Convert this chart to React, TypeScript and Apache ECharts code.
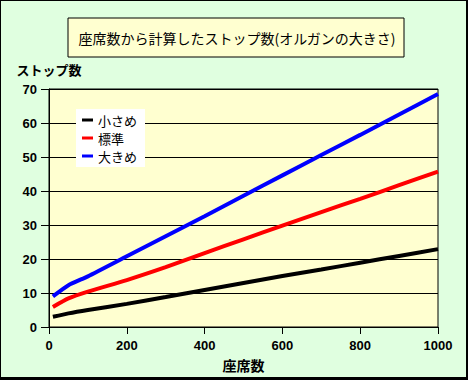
import React, { useEffect, useRef } from "react";
import * as echarts from "echarts";

const titleText = "座席数から計算したストップ数(オルガンの大きさ)";
const xAxisName = "座席数";
const yAxisName = "ストップ数";
const seriesNames = ["小さめ", "標準", "大きめ"];
const seats = [10, 50, 100, 200, 300, 400, 500, 600, 700, 800, 900, 1000];
const small = [3.0, 4.0, 5.0, 6.8, 8.8, 10.9, 12.95, 15.0, 16.9, 18.9, 20.9, 22.9];
const standard = [5.9, 8.4, 10.4, 13.8, 17.6, 21.7, 25.8, 29.8, 33.8, 37.7, 41.7, 45.7];
const large = [9.0, 12.3, 14.9, 20.8, 26.7, 32.6, 38.6, 44.6, 50.6, 56.5, 62.5, 68.5];
const xTicks = [0, 200, 400, 600, 800, 1000];
const yTicks = [0, 10, 20, 30, 40, 50, 60, 70];

const JP = '"Noto Sans CJK JP", sans-serif';
const NUM = '"Liberation Sans", Arial, sans-serif';

export default function App() {
  const ref = useRef<HTMLDivElement>(null);
  useEffect(() => {
    if (!ref.current) return;
    const chart = echarts.init(ref.current, undefined, { renderer: "svg" });
    const colors = ["#000000", "#ff0000", "#0000ff"];
    const values = [small, standard, large];
    chart.setOption({
      animation: false,
      backgroundColor: "#000000",
      graphic: [
        { type: "rect", z: -10, shape: { x: 1, y: 1, width: 465, height: 376 }, style: { fill: "#e0ffe0" } },
        {
          type: "rect",
          shape: { x: 68, y: 18, width: 336, height: 39 },
          style: { fill: "#ffffd0", stroke: "#000000", lineWidth: 1 },
        },
        {
          type: "text",
          x: 237,
          y: 38,
          style: {
            text: titleText,
            fill: "#000000",
            font: `14px ${JP}`,
            align: "center",
            verticalAlign: "middle",
          },
        },
      ],
      grid: {
        left: 49,
        top: 89,
        right: 30,
        bottom: 53,
        show: true,
        backgroundColor: "#ffffd0",
        borderColor: "#000000",
        borderWidth: 1,
      },
      legend: {
        orient: "vertical",
        left: 76,
        top: 109,
        padding: [4, 8, 4, 6],
        backgroundColor: "#ffffff",
        itemWidth: 11,
        itemHeight: 3,
        itemGap: 4,
        icon: "rect",
        data: seriesNames,
        textStyle: { fontFamily: JP, fontSize: 13, color: "#000000", lineHeight: 14 },
      },
      xAxis: {
        type: "value",
        min: xTicks[0],
        max: xTicks[xTicks.length - 1],
        interval: 200,
        name: xAxisName,
        nameLocation: "middle",
        nameGap: 31,
        nameTextStyle: { fontFamily: JP, fontSize: 14, fontWeight: "bold", color: "#000000" },
        axisLine: { lineStyle: { color: "#000000", width: 1 } },
        axisTick: { show: true, length: 7, lineStyle: { color: "#000000" } },
        axisLabel: {
          margin: 12,
          fontFamily: NUM,
          fontSize: 13,
          fontWeight: "bold",
          color: "#000000",
          formatter: (v: number) => String(v),
        },
        splitLine: { show: false },
      },
      yAxis: {
        type: "value",
        min: yTicks[0],
        max: yTicks[yTicks.length - 1],
        interval: 10,
        name: yAxisName,
        nameLocation: "end",
        nameGap: 13,
        nameTextStyle: { fontFamily: JP, fontSize: 13, fontWeight: "bold", color: "#000000", align: "center" },
        axisLine: { show: true, lineStyle: { color: "#000000", width: 1 } },
        axisTick: { show: true, length: 8, lineStyle: { color: "#000000" } },
        axisLabel: {
          margin: 12,
          fontFamily: NUM,
          fontSize: 13,
          fontWeight: "bold",
          color: "#000000",
          formatter: (v: number) => String(v),
        },
        splitLine: { show: true, lineStyle: { color: "#000000", width: 1 } },
      },
      series: seriesNames.map((name, i) => ({
        name,
        type: "line",
        data: seats.map((s, j) => [s, values[i][j]]),
        showSymbol: false,
        symbol: "none",
        smooth: 0.2,
        lineStyle: { color: colors[i], width: 4 },
        itemStyle: { color: colors[i] },
      })),
    });
    return () => chart.dispose();
  }, []);
  return (
    <div
      ref={ref}
      style={{ position: "fixed", left: 0, top: 0, width: 468, height: 380 }}
    />
  );
}
